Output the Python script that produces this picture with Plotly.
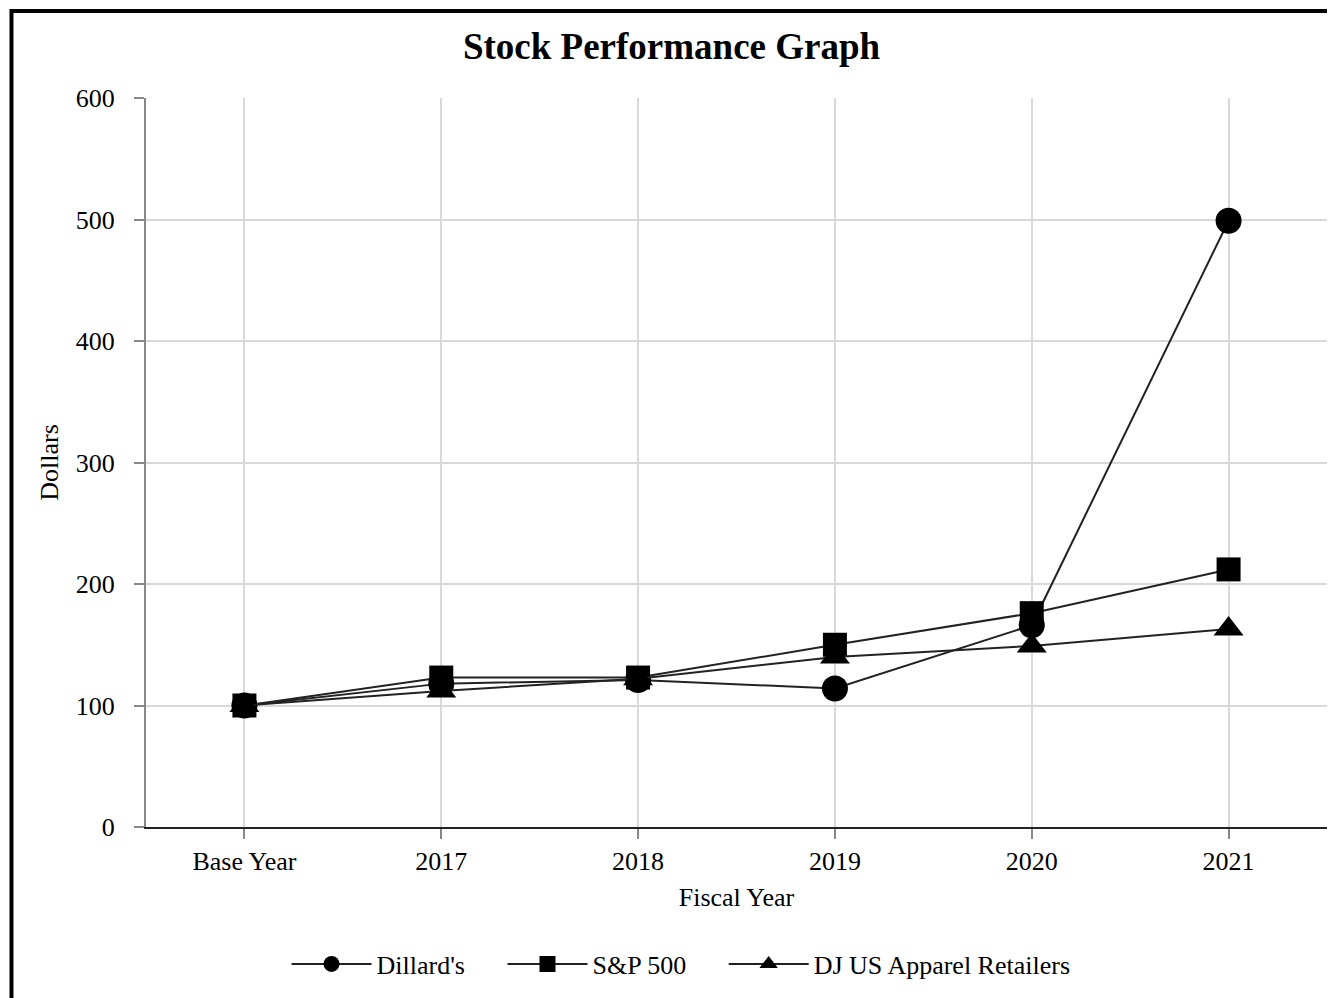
import plotly.graph_objects as go

categories = ["Base Year", "2017", "2018", "2019", "2020", "2021"]
dillards = [100, 118, 121, 114, 166, 499]
sp500 = [100, 123, 123, 150, 176, 212]
dj_apparel = [100, 112, 122, 140, 149, 163]
series_names = ["Dillard's", "S&P 500", "DJ US Apparel Retailers"]

gap = "\u00a0" * 5
series = [
    (series_names[0] + gap, dillards, "circle", 26),
    (series_names[1] + gap, sp500, "square", 24),
    (series_names[2], dj_apparel, "triangle-up", 26),
]

fig = go.Figure()
for name, vals, sym, size in series:
    fig.add_trace(go.Scatter(
        x=categories, y=vals, name=name, mode="lines+markers",
        line=dict(color="#222222", width=2),
        marker=dict(symbol=sym, size=size, color="#000000"),
    ))

font_family = "Liberation Serif, Times New Roman, serif"
fig.update_layout(
    width=1327, height=990,
    paper_bgcolor="white", plot_bgcolor="white",
    margin=dict(l=138, r=8, t=90, b=171),
    font=dict(family=font_family, size=26, color="#000000"),
    title=dict(text="<b>Stock Performance Graph</b>", x=0.5, xanchor="center",
               y=0.9616, yanchor="middle", font=dict(size=37, family=font_family)),
    showlegend=True,
    legend=dict(orientation="h", x=0.119, xanchor="left", y=-0.188, yanchor="middle",
                font=dict(size=26, family=font_family), itemwidth=80),
    xaxis=dict(
        title=dict(text="Fiscal Year", font=dict(size=26), standoff=13),
        type="category", range=[-0.5, 5.5],
        showgrid=True, gridcolor="#d9d9d9", gridwidth=2,
        showline=True, linecolor="#222222", linewidth=2,
        ticks="outside", ticklen=10, tickcolor="#888888", tickwidth=2,
        tickfont=dict(size=26),
    ),
    yaxis=dict(
        title=dict(text="Dollars", font=dict(size=26), standoff=10),
        range=[0, 600], dtick=100,
        showgrid=True, gridcolor="#d9d9d9", gridwidth=2,
        showline=True, linecolor="#888888", linewidth=2,
        ticks="outside", ticklen=10, tickcolor="#888888", tickwidth=2,
        tickfont=dict(size=26), zeroline=False, ticklabelstandoff=14,
    ),
)

fig.add_shape(type="rect", xref="paper", yref="paper",
              x0=-0.1139, x1=1.2, y0=-0.6, y1=1.1193,
              line=dict(color="black", width=4), layer="above")

fig.write_html("out.html")
